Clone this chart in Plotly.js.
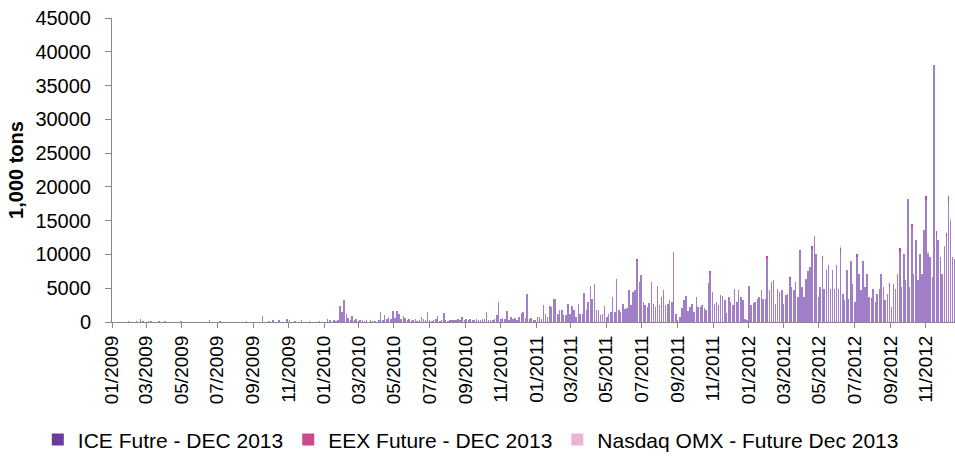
<!DOCTYPE html>
<html>
<head>
<meta charset="utf-8">
<script src="https://cdn.plot.ly/plotly-3.0.1.min.js"></script>
<style>html,body{margin:0;padding:0;background:#fff;}#chart{width:955px;height:456px;}</style>
</head>
<body>
<div id="chart"></div>
<script>
// Half-weekly readings (Monday, Thursday of each week), 1,000 tons
const firstMonday = '2009-01-05';
const ice2009 = [0,0, 0,0, 0,0, 0,50, 0,0, 0,80, 0,400, 60,0, 0,80, 50,0, 0,0, 80,0, 0,60,
  0,0, 0,0, 0,0, 0,50, 0,0, 0,0, 0,0, 0,0, 0,0, 0,0, 0,150, 0,0, 0,0, 50,0, 0,0,
  0,0, 0,0, 0,0, 0,0, 0,50, 0,0, 0,0, 0,0, 0,900, 0,0, 60,0, 200,0, 0,250, 0,0,
  0,500, 200,0, 0,80, 0,0, 150,0, 0,0, 80,0, 0,0, 0,100, 0,0];
const ice2010 = [0,400, 300,0, 200,100, 300,2370, 1450,3300, 1130,600, 300,940, 200,400,
  100,300, 300,100, 300,0, 150,100, 100,0, 300,1430, 200,1000, 400,750, 500,1650,
  600,1630, 1250,400, 900,600, 200,500, 100,200, 450,100, 300,750, 450,300, 1430,200,
  100,150, 400,900, 100,300, 1280,200, 100,300, 150,300, 200,450, 300,750, 200,500,
  150,450, 200,300, 450,200, 150,450, 450,1430, 200,300, 300,400, 1000,2900, 400,600,
  500,1580, 300,750, 400,600, 300,750, 1330,1480, 600,4100, 400,600, 300,300];
const ice2011 = [750,750, 500,2460, 1200,800, 2300,2200, 3350,3450, 1200,1720, 1800,1000,
  1000,2600, 1200,2300, 1800,800, 2600,1200, 1200,4300, 1800,3000, 5400,3450, 5570,1800,
  1720,1000, 1200,2300, 800,1200, 1500,3700, 1500,6300, 1800,1500, 2600,1900, 2000,4700,
  2500,4400, 4700,9100, 5900,6900, 3000,2500, 2200,2800, 5900,2700, 2200,5300, 2500,3700,
  4700,2500, 2700,3300, 3000,10400, 1200,300, 800,2000, 3300,3800, 1700,2200, 2700,1500,
  3700,2200, 2200,2500, 2000,1800, 5700,7200, 4400,2700, 3000,2500, 4000,3800, 3200,1300,
  3700,3000, 2500,4900, 3000,4800, 3700,3200, 500,300];
const ice2012 = [5300,2500, 2800,3000, 3400,3700, 4700,3400, 3400,9400, 4700,5900, 6200,2700,
  4900,4400, 4800,2700, 4000,4200, 6300,5200, 4700,5900, 3700,10600, 5200,3700, 6400,7600,
  8100,10800, 12800,10000, 3700,5200, 9400,4900, 7700,8400, 4900,7700, 4900,8400, 4900,10400,
  4100,3300, 7700,3400, 9100,5600, 3000,9600, 7100,4700, 9100,5200, 7100,3700, 3300,4900,
  3000,4100, 4900,7100, 5200,3300, 4100,5200, 2200,5600, 4900,7100, 10400,5200, 10100,6200,
  18200,5200, 14000,7100, 12100,6200, 10100,7100, 13600,18000, 10100,9600, 6700,38100,
  12600,12100, 9600,7100, 11300,12600, 17800,15000, 9600,9300];
const eexDates = ['2011-06-23','2011-10-27','2012-02-02','2012-03-12','2012-04-19','2012-05-07',
  '2012-06-07','2012-07-05','2012-07-30','2012-08-30','2012-09-17','2012-10-08','2012-11-01',
  '2012-11-19','2012-12-06','2012-12-10'];
const eexValues = [300,300,400,300,500,400,600,400,300,500,600,500,700,800,600,900];
const nasdaqDates = ['2012-06-07','2012-11-05','2012-12-13'];
const nasdaqValues = [200,300,400];
const seriesNames = ['ICE Futre - DEC 2013','EEX Future - DEC 2013','Nasdaq OMX - Future Dec 2013'];
const legendColors = ['#6b3a9e','#cc4a8b','#e8b4d4'];
const barColors = ['#a07fc8','#cc4a8b','#e8b4d4'];
const yTicks = [0,5000,10000,15000,20000,25000,30000,35000,40000,45000];

const iceValues = ice2009.concat(ice2010, ice2011, ice2012);
const DAY = 86400000;
const t0 = Date.parse(firstMonday + 'T00:00:00Z');
const iceDates = [];
for (let i = 0; i < iceValues.length; i++) {
  const w = Math.floor(i / 2), off = (i % 2) ? 3 : 0;
  iceDates.push(new Date(t0 + (w * 7 + off) * DAY).toISOString().slice(0, 10));
}
const font = 'Arial, "Liberation Sans", sans-serif';
const bw = 0.9 * DAY;
const data = [[iceDates, iceValues], [eexDates, eexValues], [nasdaqDates, nasdaqValues]];
const traces = data.map((d, i) => ({type:'bar', name:seriesNames[i], x:d[0], y:d[1], width:bw,
  showlegend:false, hoverinfo:'skip', marker:{color:barColors[i], line:{width:0}}}));
seriesNames.forEach((n, i) => traces.push({type:'bar', name:n, x:[null], y:[null],
  showlegend:true, marker:{color:legendColors[i], line:{width:0}}}));
const layout = {
  width:955, height:456,
  margin:{l:112, r:0, t:18, b:134, autoexpand:false},
  paper_bgcolor:'#fff', plot_bgcolor:'#fff',
  barmode:'stack',
  font:{family:font, size:20, color:'#000'},
  showlegend:true,
  legend:{orientation:'h', x:-0.088, xanchor:'left', y:-0.388, yanchor:'middle',
    font:{family:font, size:21, color:'#000'}, traceorder:'normal', bgcolor:'rgba(0,0,0,0)'},
  xaxis:{type:'date', range:['2009-01-01','2012-12-21'], tick0:'2009-01-01', dtick:'M2',
    tickformat:'%m/%Y', tickangle:-90, ticks:'outside', ticklen:5, tickcolor:'#888',
    showline:true, linecolor:'#888', linewidth:1, showgrid:false, zeroline:false, automargin:false,
    tickfont:{family:font, size:19, color:'#000'}},
  yaxis:{range:[0,45000], tickvals:yTicks, ticktext:yTicks.map(String), ticks:'outside', ticklen:6,
    tickcolor:'#888', showline:true, linecolor:'#888', linewidth:1, showgrid:false, zeroline:false,
    ticklabelstandoff:10, automargin:false,
    tickfont:{family:font, size:20, color:'#000'},
    title:{text:'<b>1,000 tons</b>', font:{family:font, size:20, color:'#000'}, standoff:6}}
};
Plotly.newPlot('chart', traces, layout, {displayModeBar:false});
</script>
</body>
</html>
